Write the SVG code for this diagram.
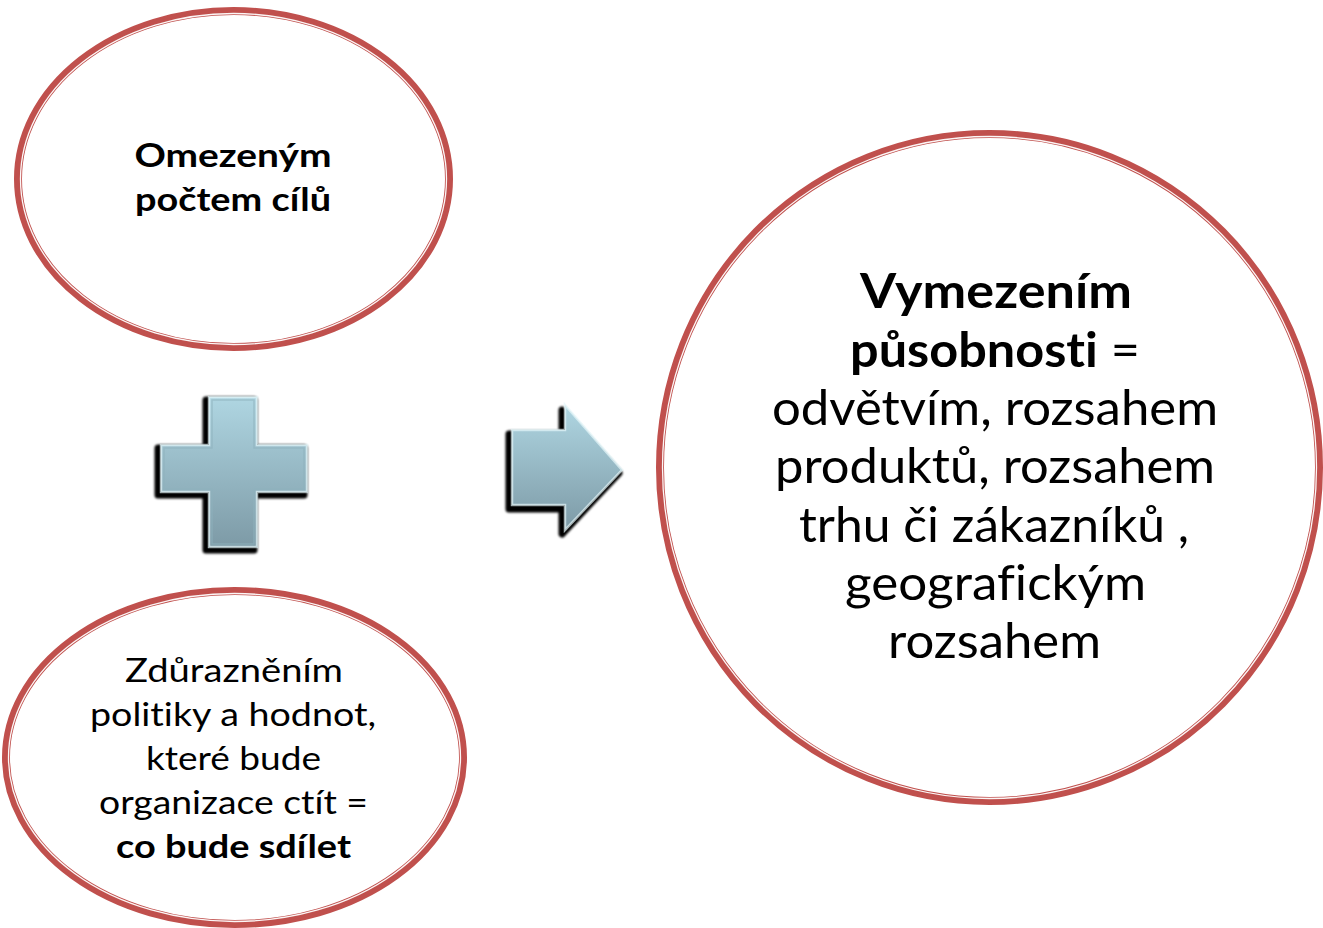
<svg xmlns="http://www.w3.org/2000/svg" width="1323" height="928" viewBox="0 0 1323 928">
<style>
.ring{fill:#fff;stroke:#C0504D;stroke-width:8}
.gap{fill:none;stroke:#fff;stroke-width:1.3;opacity:0.95}
.t{font-family:Lato,"Open Sans","Liberation Sans",sans-serif;fill:#000;text-anchor:middle;font-variant-ligatures:none;font-feature-settings:"liga" 0}
.b{font-weight:bold}
</style>
<defs>
<linearGradient id="g" x1="0" y1="0" x2="0" y2="1">
<stop offset="0" stop-color="#AFD6E2"/>
<stop offset="1" stop-color="#7D9AA6"/>
</linearGradient>
<filter id="blur" x="-20%" y="-20%" width="140%" height="140%"><feGaussianBlur stdDeviation="0.8"/></filter>
</defs>
<rect width="1323" height="928" fill="#fff"/>

<g id="node-top">
<ellipse class="ring" cx="233.5" cy="179" rx="215.5" ry="168"/>
<ellipse class="gap" cx="233.5" cy="179" rx="213" ry="165.5"/>
<text class="t b" font-size="33" x="233" y="167" textLength="197" lengthAdjust="spacingAndGlyphs">Omezeným</text>
<text class="t b" font-size="33" x="233" y="211" textLength="196" lengthAdjust="spacingAndGlyphs">počtem cílů</text>
</g>

<g id="node-bottom">
<ellipse class="ring" cx="234.5" cy="757.5" rx="228.5" ry="166.5"/>
<ellipse class="gap" cx="234.5" cy="757.5" rx="226" ry="164"/>
<text class="t" font-size="33" x="234" y="682" textLength="218" lengthAdjust="spacingAndGlyphs">Zdůrazněním</text>
<text class="t" font-size="33" x="233" y="726" textLength="286" lengthAdjust="spacingAndGlyphs">politiky a hodnot,</text>
<text class="t" font-size="33" x="233.5" y="770" textLength="175" lengthAdjust="spacingAndGlyphs">které bude</text>
<text class="t" font-size="33" x="233.5" y="814" textLength="269" lengthAdjust="spacingAndGlyphs">organizace ctít =</text>
<text class="t b" font-size="33" x="233.5" y="858" textLength="235" lengthAdjust="spacingAndGlyphs">co bude sdílet</text>
</g>

<g id="node-right">
<ellipse class="ring" cx="989.5" cy="467.5" rx="329.5" ry="333.5"/>
<ellipse class="gap" cx="989.5" cy="467.5" rx="327" ry="331"/>
<text class="t b" font-size="48" x="996" y="308" textLength="272" lengthAdjust="spacingAndGlyphs">Vymezením</text>
<text class="t" font-size="48" x="995" y="366.5" textLength="290" lengthAdjust="spacingAndGlyphs"><tspan class="b">působnosti</tspan> =</text>
<text class="t" font-size="48" x="995" y="425" textLength="446" lengthAdjust="spacingAndGlyphs">odvětvím, rozsahem</text>
<text class="t" font-size="48" x="995" y="483" textLength="440" lengthAdjust="spacingAndGlyphs">produktů, rozsahem</text>
<text class="t" font-size="48" x="994" y="541.5" textLength="390" lengthAdjust="spacingAndGlyphs">trhu či zákazníků ,</text>
<text class="t" font-size="48" x="995.5" y="600" textLength="301" lengthAdjust="spacingAndGlyphs">geografickým</text>
<text class="t" font-size="48" x="994.5" y="658" textLength="213" lengthAdjust="spacingAndGlyphs">rozsahem</text>
</g>

<g id="plus">
<path d="M206,400 H254 V448 H304 V495 H254 V550 H206 V495 H158 V448 H206 Z" fill="#000" stroke="#000" stroke-width="7" stroke-linejoin="round" filter="url(#blur)"/>
<path d="M209,397 H257 V445 H307 V492 H257 V547 H209 V492 H161 V445 H209 Z" fill="url(#g)"/>
<path d="M209,397 H257 V445 H307 V492 H257 V547 H209 V492 H161 V445 H209 Z" fill="none" stroke="#E6F6FA" stroke-width="2.5" stroke-opacity="0.7"/>
<path d="M212,400 H254 V448 H304 V489 H254 V544 H212 V489 H164 V448 H212 Z" fill="none" stroke="#8FB2BE" stroke-width="1.5" stroke-opacity="0.6"/>
</g>

<g id="arrow">
<path d="M509,434 H562 V410 L619,473 L562,534 V509 H509 Z" fill="#000" stroke="#000" stroke-width="7" stroke-linejoin="round" filter="url(#blur)"/>
<path d="M512,430 H565 V405 L622,470 L565,530 V505 H512 Z" fill="url(#g)"/>
<path d="M512,430 H565 V405 L622,470 L565,530 V505 H512 Z" fill="none" stroke="#E6F6FA" stroke-width="2.5" stroke-opacity="0.7"/>
</g>
</svg>
